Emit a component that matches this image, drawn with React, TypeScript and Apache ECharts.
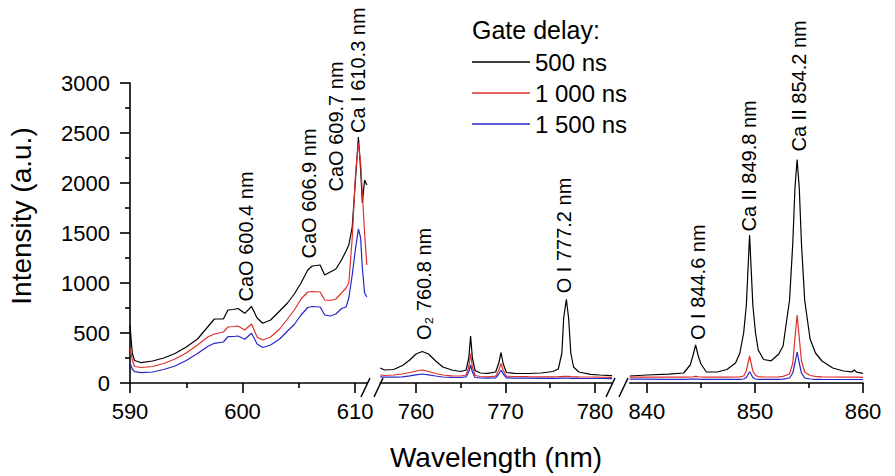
import React, { useEffect, useRef } from "react";
import * as echarts from "echarts";

// ---------- DATA ----------
const seriesNames = ["500 ns", "1 000 ns", "1 500 ns"];
const seriesColors = ["#000000", "#e0302c", "#2626c8"];

// Segment 1 (590–611 nm)
const seg1Wl = [590.0, 590.2, 590.4, 591.0, 592.0, 593.0, 594.0, 595.0, 596.0, 596.9, 597.5, 598.3, 598.7, 599.2, 599.6, 600.2, 600.8, 601.3, 601.8, 602.5, 603.3, 604.0, 604.6, 605.2, 605.8, 606.2, 606.9, 607.3, 607.8, 608.3, 608.8, 609.2, 609.45, 609.75, 610.05, 610.3, 610.5, 610.65, 610.85, 611.05];
const seg1Black = [580, 300, 225, 203, 220, 250, 295, 360, 440, 560, 640, 640, 730, 735, 745, 697, 765, 650, 597, 630, 720, 800, 890, 1000, 1130, 1170, 1180, 1080, 1110, 1140, 1230, 1320, 1380, 1560, 2050, 2460, 2130, 1800, 2030, 1980];
const seg1Red = [350, 230, 165, 155, 165, 195, 240, 300, 380, 460, 490, 510, 560, 565, 570, 530, 590, 460, 430, 460, 540, 640, 730, 840, 910, 915, 910, 830, 825, 840, 900, 950, 1000, 1450, 2100, 2400, 2200, 1900, 1500, 1180];
const seg1Blue = [200, 140, 113, 103, 110, 135, 170, 225, 295, 365, 397, 410, 463, 465, 470, 437, 497, 390, 355, 380, 440, 520, 585, 680, 755, 765, 760, 680, 670, 690, 745, 760, 850, 1080, 1350, 1540, 1450, 1150, 900, 860];

// Segment 2 (756–782 nm)
const seg2Wl = [756.0, 756.5, 757.5, 758.5, 759.3, 760.0, 760.7, 761.4, 762.2, 763.0, 764.0, 765.0, 765.6, 765.9, 766.1, 766.3, 766.6, 767.2, 768.0, 768.9, 769.25, 769.5, 769.75, 770.1, 771.0, 772.5, 774.0, 775.3, 775.9, 776.3, 776.5, 776.8, 777.05, 777.3, 777.6, 778.2, 779.5, 780.5, 781.9];
const seg2Black = [150, 130, 135, 175, 230, 290, 315, 290, 220, 160, 130, 115, 130, 250, 470, 250, 125, 100, 97, 110, 200, 305, 190, 105, 97, 95, 100, 115, 140, 300, 650, 837, 650, 300, 160, 110, 87, 80, 73];
const seg2Red = [80, 75, 80, 90, 105, 120, 130, 115, 95, 80, 72, 70, 80, 160, 295, 160, 75, 65, 62, 68, 130, 195, 125, 68, 65, 63, 62, 62, 63, 64, 66, 67, 66, 64, 62, 61, 60, 58, 56];
const seg2Blue = [62, 58, 58, 62, 72, 82, 90, 82, 70, 60, 56, 55, 62, 110, 180, 110, 55, 50, 49, 52, 90, 130, 90, 52, 49, 48, 47, 47, 47, 48, 48, 49, 48, 47, 47, 46, 45, 45, 44];

// Segment 3 (838–860 nm)
const seg3Wl = [838.4, 840, 842, 843.4, 844.0, 844.25, 844.5, 844.75, 845.0, 845.5, 846.5, 847.4, 848.2, 848.6, 848.95, 849.2, 849.5, 849.8, 850.05, 850.3, 850.8, 851.5, 852.2, 852.6, 853.2, 853.5, 853.7, 853.9, 854.1, 854.3, 854.6, 855.1, 855.6, 856.2, 857.2, 858.2, 859.0, 859.2, 859.4, 860.0];
const seg3Black = [70, 80, 88, 100, 180, 270, 380, 270, 190, 110, 110, 135, 200, 300, 500, 780, 1480, 780, 500, 330, 235, 222, 290, 370, 830, 1400, 1950, 2235, 1950, 1400, 830, 440, 300, 220, 150, 120, 112, 130, 108, 97];
const seg3Red = [58, 58, 58, 58, 60, 62, 66, 62, 60, 58, 58, 58, 60, 62, 70, 120, 270, 120, 75, 64, 60, 60, 62, 66, 90, 200, 450, 680, 450, 220, 110, 75, 66, 62, 60, 58, 58, 58, 58, 57];
const seg3Blue = [38, 38, 37, 37, 38, 38, 40, 38, 37, 36, 36, 36, 36, 37, 40, 55, 113, 55, 40, 37, 36, 36, 36, 38, 50, 100, 200, 310, 200, 100, 50, 40, 37, 36, 35, 35, 35, 35, 35, 35];

// Axis ranges and ticks
const segMin = [590, 756, 838.4];
const segMax = [611.1, 781.9, 860];
const majorTicks = [[590, 600, 610], [760, 770, 780], [840, 850, 860]];
const minorTicks = [[595, 605], [765, 775], [845, 855]];
const yMin = 0;
const yMax = 3000;
const yInterval = 500;

// Peak annotations: [segment, wavelength, intensity at label base, text]
const annotations: [number, number, number, string][] = [
  [0, 600.35, 815, "CaO 600.4 nm"],
  [0, 605.95, 1245, "CaO 606.9 nm"],
  [0, 608.3, 1915, "CaO 609.7 nm"],
  [0, 610.3, 2500, "Ca I 610.3 nm"],
  [1, 760.9, 430, "O\u2082 760.8 nm"],
  [1, 776.5, 897, "O I 777.2 nm"],
  [2, 844.75, 430, "O I 844.6 nm"],
  [2, 849.45, 1515, "Ca II 849.8 nm"],
  [2, 854.05, 2315, "Ca II 854.2 nm"],
];

const legendTitle = "Gate delay:";
const xName = "Wavelength (nm)";
const yName = "Intensity (a.u.)";

// ---------- LAYOUT ----------
const FONT = "Arial, 'Liberation Sans', Helvetica, sans-serif";
const gridTop = 83;
const gridHeight = 300;
const gridBoxes = [
  { left: 130, width: 237.4 },
  { left: 380.2, width: 231.8 },
  { left: 629.7, width: 233.3 },
];

const segWl = [seg1Wl, seg2Wl, seg3Wl];
const segVals = [
  [seg1Black, seg1Red, seg1Blue],
  [seg2Black, seg2Red, seg2Blue],
  [seg3Black, seg3Red, seg3Blue],
];

export default function App() {
  const ref = useRef<HTMLDivElement>(null);
  useEffect(() => {
    if (!ref.current) return;
    const chart = echarts.init(ref.current, null, { renderer: "svg" });

    const axisColor = "#000";
    const grid = gridBoxes.map((g) => ({ left: g.left, width: g.width, top: gridTop, height: gridHeight, containLabel: false }));

    const xAxis: any[] = [];
    for (let i = 0; i < 3; i++) {
      xAxis.push({
        gridIndex: i,
        type: "value",
        min: segMin[i],
        max: segMax[i],
        position: "bottom",
        axisLine: { show: true, onZero: false, lineStyle: { color: axisColor, width: 1.6 } },
        axisTick: { show: true, customValues: majorTicks[i], length: 10, lineStyle: { color: axisColor, width: 1.6 } },
        axisLabel: { show: true, customValues: majorTicks[i], fontSize: 22, color: "#000", fontFamily: FONT, margin: 17, formatter: (v: number) => String(v) },
        splitLine: { show: false },
      });
      xAxis.push({
        gridIndex: i,
        type: "value",
        min: segMin[i],
        max: segMax[i],
        position: "bottom",
        axisLine: { show: false, onZero: false },
        axisTick: { show: true, customValues: minorTicks[i], length: 5, lineStyle: { color: axisColor, width: 1.6 } },
        axisLabel: { show: false },
        splitLine: { show: false },
      });
    }

    const yAxis: any[] = [0, 1, 2].map((i) => ({
      gridIndex: i,
      type: "value",
      min: yMin,
      max: yMax,
      interval: yInterval,
      show: i === 0,
      axisLine: { show: true, lineStyle: { color: axisColor, width: 1.6 } },
      axisTick: { show: true, length: 10, lineStyle: { color: axisColor, width: 1.6 } },
      minorTick: { show: true, splitNumber: 2, length: 5, lineStyle: { color: axisColor, width: 1.6 } },
      axisLabel: { fontSize: 22, color: "#000", fontFamily: FONT, margin: 20, formatter: (v: number) => String(v) },
      splitLine: { show: false },
      minorSplitLine: { show: false },
    }));

    const series: any[] = [];
    for (let s = 0; s < 3; s++) {
      for (let k = 0; k < 3; k++) {
        series.push({
          type: "line",
          name: seriesNames[k],
          xAxisIndex: s * 2,
          yAxisIndex: s,
          data: segWl[s].map((w, j) => [w, segVals[s][k][j]]),
          showSymbol: false,
          symbol: "none",
          lineStyle: { color: seriesColors[k], width: 1.2 },
          itemStyle: { color: seriesColors[k] },
          z: 2 + k,
        });
      }
    }

    chart.setOption({
      animation: false,
      backgroundColor: "#fff",
      grid,
      xAxis,
      yAxis,
      series,
      legend: {
        data: seriesNames.map((n) => ({ name: n, icon: "rect" })),
        orient: "vertical",
        left: 467,
        top: 44,
        itemWidth: 58,
        itemHeight: 1.5,
        itemGap: 5,
        textStyle: { fontSize: 24, color: "#000", fontFamily: FONT, lineHeight: 26 },
        selectedMode: false,
      },
    });

    const elements: any[] = [];
    // legend title
    elements.push({
      type: "text", x: 472, y: 30,
      style: { text: legendTitle, fontSize: 25, fontFamily: FONT, fill: "#000", align: "left", verticalAlign: "middle" },
    });
    // axis names
    elements.push({
      type: "text", x: 496, y: 457,
      style: { text: xName, fontSize: 28, fontFamily: FONT, fill: "#000", align: "center", verticalAlign: "middle" },
    });
    elements.push({
      type: "text", x: 21, y: 216, rotation: Math.PI / 2,
      style: { text: yName, fontSize: 28, fontFamily: FONT, fill: "#000", align: "center", verticalAlign: "middle" },
    });
    // axis break marks
    const breaks = [
      [361, 397, 370, 378],
      [374, 397, 383, 378],
      [606, 397, 615, 378],
      [619, 397, 628, 378],
    ];
    breaks.forEach((b) =>
      elements.push({
        type: "line",
        shape: { x1: b[0], y1: b[1], x2: b[2], y2: b[3] },
        style: { stroke: "#000", lineWidth: 1.5 },
      })
    );
    // annotations
    annotations.forEach(([seg, wl, val, text]) => {
      const p = chart.convertToPixel({ xAxisIndex: seg * 2, yAxisIndex: seg }, [wl, val]) as number[];
      elements.push({
        type: "text", x: p[0], y: p[1], rotation: Math.PI / 2,
        style: { text, fontSize: 20, fontFamily: FONT, fill: "#000", align: "left", verticalAlign: "middle" },
        z: 10,
      });
    });

    chart.setOption({ graphic: { elements } });

    return () => chart.dispose();
  }, []);

  return (
    <div
      ref={ref}
      style={{ position: "fixed", left: 0, top: 0, width: 895, height: 476, background: "#fff" }}
    />
  );
}
